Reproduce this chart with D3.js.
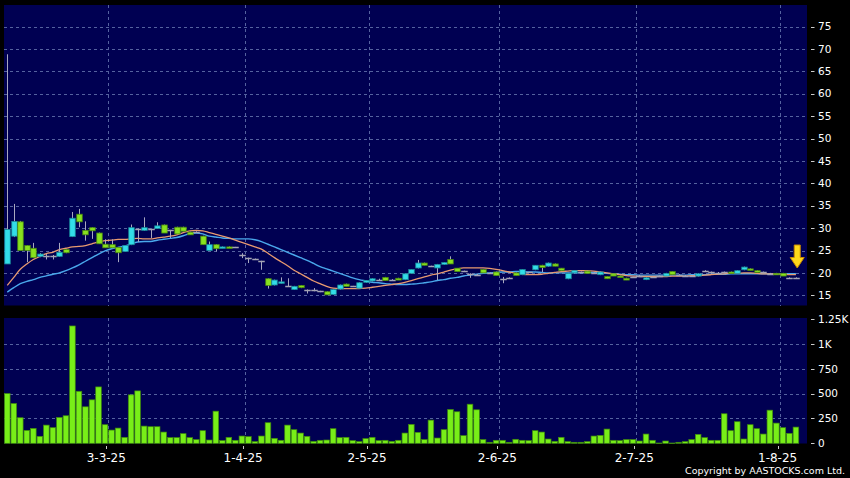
<!DOCTYPE html>
<html><head><meta charset="utf-8">
<script src="https://cdn.jsdelivr.net/npm/d3@7"></script>
<style>html,body{margin:0;padding:0;background:#000;}svg{display:block;}</style>
</head><body><svg id="c" width="850" height="478"></svg>
<script>
// ---- data (index = trading day from listing) ----
const opens  = [22.0,28.2,31.4,26.1,25.5,23.7,23.7,23.7,23.7,25.2,28.1,33.1,29.5,30.1,28.9,26.4,26.3,25.7,24.8,26.3,29.8,29.5,29.8,29.9,30.7,29.5,30.2,30.2,29.1,29.1,
 28.2,25.0,26.3,25.6,25.8,25.7,23.9,23.3,23.1,22.6,18.7,17.3,17.7,17.0,16.3,17.2,16.2,16.1,15.9,15.8,15.2,16.4,17.5,17.0,16.6,17.9,18.2,18.5,19.0,18.5,
 18.8,18.5,19.9,21.1,22.2,21.5,21.1,21.9,23.0,21.05,20.4,19.8,19.6,20.75,20.0,20.2,18.7,18.9,20.0,19.6,20.1,20.7,21.7,21.5,22.0,21.05,18.7,20.0,20.2,20.4,
 20.0,19.6,19.2,19.8,19.3,18.8,19.0,19.3,18.5,19.0,19.3,19.3,20.3,19.6,19.4,19.3,19.3,20.4,20.2,20.0,20.2,20.2,19.9,20.7,20.9,20.5,20.2,19.8,19.9,19.9,
 18.9,18.9];
const highs  = [68.8,35.4,31.6,26.2,26.7,24.4,24.2,24.0,26.7,25.3,33.6,34.3,31.5,30.2,29.0,27.5,27.5,25.8,26.2,30.8,29.9,32.4,29.9,31.3,30.8,29.6,30.3,30.3,29.2,29.3,
 28.3,27.0,26.4,25.9,25.9,25.8,24.4,23.4,23.2,22.7,18.8,18.5,19.0,18.8,17.1,17.3,16.3,16.6,16.0,15.9,16.4,17.4,17.6,17.1,17.9,18.4,18.8,18.7,19.1,18.6,
 18.9,19.9,20.8,22.9,22.3,21.6,22.0,22.4,23.7,21.1,20.5,19.9,19.8,20.8,20.1,20.3,19.1,19.0,20.1,20.8,20.2,21.7,21.8,22.3,22.1,21.1,20.0,20.6,20.3,20.5,
 20.1,20.3,19.3,19.9,19.4,18.9,19.1,19.5,19.0,19.1,19.4,20.0,20.4,19.7,19.5,19.4,19.9,20.6,20.3,20.2,20.3,20.3,20.6,21.4,21.0,20.6,20.3,20.0,20.0,20.0,
 19.0,19.0];
const lows   = [22.0,28.0,25.0,22.4,23.4,23.5,23.0,23.0,23.6,24.4,28.0,30.2,27.2,27.6,26.5,25.6,25.6,22.4,24.7,26.2,26.9,29.4,27.8,29.8,28.9,27.8,28.7,29.3,28.5,29.0,
 26.3,25.0,24.8,25.5,25.6,25.6,23.3,22.2,23.0,20.7,16.5,17.2,17.6,16.9,16.2,16.6,15.4,15.9,15.7,15.1,15.1,16.3,17.0,16.9,16.5,17.8,18.1,18.4,18.3,18.4,
 18.4,18.4,19.8,21.0,21.7,21.4,18.4,21.8,22.0,20.3,20.3,18.9,19.5,20.0,19.9,19.4,17.7,18.8,19.4,19.5,20.0,20.6,20.2,21.4,21.5,20.5,18.6,19.9,20.1,19.9,
 19.9,19.5,18.7,19.3,19.0,18.4,18.9,19.2,18.4,18.9,19.2,19.2,19.6,19.5,19.3,19.2,19.2,20.3,19.8,19.9,20.0,19.8,19.8,20.6,20.6,20.1,20.1,19.7,19.6,19.3,
 18.8,18.8];
const closes = [29.7,31.5,25.0,25.0,23.4,24.2,23.7,23.7,24.6,24.5,32.2,31.4,28.5,29.4,26.5,25.6,25.6,24.5,26.1,30.1,29.8,30.1,29.8,30.5,28.9,29.5,28.7,29.3,28.5,29.1,
 26.3,26.3,25.4,25.8,25.6,25.7,23.9,23.3,23.1,22.6,17.2,18.4,18.0,17.0,17.0,16.7,16.2,16.1,15.9,15.1,16.3,17.3,17.0,17.0,17.8,18.3,18.7,18.5,18.3,18.5,
 18.4,19.8,20.75,22.2,21.7,21.5,21.9,22.3,22.0,20.3,20.4,19.8,19.6,20.0,20.0,19.4,18.7,18.9,19.4,20.75,20.1,21.7,21.2,22.2,21.5,20.5,19.9,20.5,20.2,19.9,
 20.0,20.2,18.7,19.3,19.0,18.4,19.0,19.3,18.9,19.0,19.3,19.9,19.6,19.6,19.4,19.3,19.8,20.4,20.2,20.0,20.2,19.9,20.5,21.3,20.7,20.1,20.2,19.8,19.6,19.3,
 18.9,18.9];
const volumes = [500,400,257,130,150,70,183,157,260,277,1180,523,367,437,567,187,133,153,60,487,527,173,167,167,113,57,57,97,57,37,
 127,33,323,27,60,30,73,67,17,73,207,50,30,183,137,103,70,20,30,33,147,57,60,27,17,47,60,27,30,20,
 30,103,190,110,37,233,53,137,340,317,77,393,337,37,10,30,30,10,40,30,27,127,113,43,20,60,17,10,10,17,
 73,80,143,30,27,37,37,23,93,30,3,23,3,10,17,37,90,57,30,30,297,127,217,43,187,147,93,333,203,157,
 100,163];
const maShort = [17.2,19.0,20.8,22.0,23.0,23.7,24.3,24.6,25.2,25.5,25.8,25.9,26.1,26.5,26.9,27.2,27.3,27.5,27.5,27.6,27.7,27.6,27.6,27.8,28.0,28.2,28.5,29.0,29.4,29.5,
 29.4,29.0,28.6,28.2,27.8,27.3,26.8,26.3,25.8,25.3,24.4,23.4,22.5,21.6,20.6,19.8,19.0,18.2,17.6,17.0,16.6,16.5,16.5,16.5,16.5,16.6,16.8,17.0,17.2,17.4,
 17.6,17.9,18.3,18.7,19.1,19.5,19.8,20.2,20.6,20.9,21.1,21.1,21.1,21.1,21.0,20.8,20.5,20.2,19.9,19.7,19.6,19.6,19.7,19.9,20.1,20.3,20.4,20.5,20.5,20.5,
 20.4,20.2,20.0,19.8,19.6,19.4,19.3,19.2,19.2,19.2,19.2,19.2,19.3,19.3,19.3,19.4,19.4,19.5,19.6,19.7,19.8,19.9,19.9,20.0,20.0,19.9,19.8,19.8,19.7,19.7,
 19.6,19.6];
const maLong = [15.7,16.7,17.6,18.1,18.5,19.0,19.35,19.7,20.0,20.5,21.1,21.8,22.6,23.4,24.2,24.9,25.4,25.7,26.0,26.5,26.9,27.0,27.0,27.3,27.5,27.7,27.9,28.3,28.8,28.9,
 28.7,28.2,28.0,27.8,27.7,27.6,27.6,27.6,27.4,27.0,26.4,25.8,25.2,24.6,24.0,23.4,22.8,22.1,21.4,20.9,20.4,19.9,19.4,18.9,18.5,18.2,17.9,17.8,17.6,17.5,
 17.4,17.4,17.5,17.6,17.8,18.0,18.3,18.5,18.8,19.0,19.3,19.5,19.7,19.9,20.0,20.1,20.2,20.2,20.3,20.3,20.2,20.2,20.1,20.0,20.0,20.0,20.0,20.0,20.0,20.1,
 20.1,20.0,19.9,19.8,19.7,19.6,19.6,19.5,19.5,19.5,19.5,19.5,19.5,19.5,19.5,19.6,19.6,19.6,19.7,19.7,19.7,19.8,19.8,19.8,19.8,19.8,19.8,19.8,19.8,19.8,
 19.8,19.8];
const dateLabels = ["3-3-25","1-4-25","2-5-25","2-6-25","2-7-25","1-8-25"];
const dateIndex  = [15,36,55,75,96,118];
const priceTicks = [15,20,25,30,35,40,45,50,55,60,65,70,75];
const volTicks   = [0,250,500,750,1000,1250];
const volTickLabels = ["0","250","500","750","1K","1.25K"];

// ---- layout ----
const svg = d3.select("#c");
const L = 4, R = 807;
const top1 = 5, bot1 = 305.5, top2 = 318, bot2 = 443.5;
const x = d3.scaleLinear().domain([-0.5, 122.7]).range([L, R]);
const y = d3.scaleLinear().domain([15, 75]).range([295.3, 26.5]);
const yv = d3.scaleLinear().domain([0, 1250]).range([443.3, 319]);
const bw = 5.5;
const panel = "#000052", grid = "#55629f";
const upC = "#33dde8", upS = "#1a8a99", dnC = "#88e21e", dnS = "#4a8a10", dojiC = "#a4a4b4", wickC = "#a8a8c0";

svg.append("rect").attr("x",0).attr("y",0).attr("width",850).attr("height",478).attr("fill","#000");
svg.append("rect").attr("x",L).attr("y",top1).attr("width",R-L).attr("height",bot1-top1).attr("fill",panel);
svg.append("rect").attr("x",L).attr("y",top2).attr("width",R-L).attr("height",bot2-top2).attr("fill",panel);

// grid
const g = svg.append("g").attr("stroke",grid).attr("stroke-width",1).attr("stroke-dasharray","3,3").attr("shape-rendering","crispEdges");
priceTicks.forEach(t=>{ g.append("line").attr("x1",L).attr("x2",R).attr("y1",Math.round(y(t))+0.5).attr("y2",Math.round(y(t))+0.5); });
volTicks.slice(1,5).forEach(t=>{ g.append("line").attr("x1",L).attr("x2",R).attr("y1",Math.round(yv(t))+0.5).attr("y2",Math.round(yv(t))+0.5); });
dateIndex.forEach(i=>{
  const xx = Math.round(x(i+0.5))+0.5;
  g.append("line").attr("x1",xx).attr("x2",xx).attr("y1",top1).attr("y2",bot1);
  g.append("line").attr("x1",xx).attr("x2",xx).attr("y1",top2).attr("y2",bot2);
});

// MA lines
const idx = d3.range(opens.length);
const line = (arr)=> d3.line().x(i=>x(i)).y(i=>y(arr[i])).curve(d3.curveMonotoneX)(idx);
svg.append("path").attr("d",line(maLong)).attr("fill","none").attr("stroke","#4aa8ec").attr("stroke-width",1.4);
svg.append("path").attr("d",line(maShort)).attr("fill","none").attr("stroke","#e89a70").attr("stroke-width",1.3);

// candles
const cg = svg.append("g");
idx.forEach(i=>{
  const o=opens[i], c=closes[i], h=highs[i], l=lows[i];
  const cx = Math.round(x(i))+0.5;
  cg.append("line").attr("x1",cx).attr("x2",cx).attr("y1",y(h)).attr("y2",y(l)).attr("stroke",wickC).attr("stroke-width",1);
  if (Math.abs(o-c) < 0.05) {
    cg.append("line").attr("x1",cx-bw/2-0.5).attr("x2",cx+bw/2+0.5).attr("y1",Math.round(y(c))+0.5).attr("y2",Math.round(y(c))+0.5).attr("stroke",dojiC).attr("stroke-width",1.5);
  } else {
    const up = c > o;
    const y0 = y(Math.max(o,c)), y1 = y(Math.min(o,c));
    cg.append("rect").attr("x",cx-bw/2).attr("y",y0).attr("width",bw).attr("height",Math.max(1.5,y1-y0))
      .attr("fill",up?upC:dnC).attr("stroke",up?upS:dnS).attr("stroke-width",0.8);
  }
});

// volume bars
const vg = svg.append("g");
idx.forEach(i=>{
  const cx = x(i);
  vg.append("rect").attr("x",cx-2.8).attr("y",yv(volumes[i])).attr("width",5.6).attr("height",Math.max(0.5,yv(0)-yv(volumes[i])))
    .attr("fill","#78ee18").attr("stroke","#3f8a0c").attr("stroke-width",0.7);
});

// arrow
const ax = x(121.2);
svg.append("path").attr("d",`M${ax-3},245 L${ax+3},245 L${ax+3},257.5 L${ax+7},257.5 L${ax},268 L${ax-7},257.5 L${ax-3},257.5 Z`)
  .attr("fill","#ffd81a").attr("stroke","#c98a00").attr("stroke-width",1);

// axes labels
const tf = "DejaVu Sans, Verdana, sans-serif";
const yl = svg.append("g").attr("fill","#fff").attr("font-family",tf).attr("font-size",10.5);
priceTicks.forEach(t=>{
  svg.append("line").attr("x1",811).attr("x2",814.5).attr("y1",Math.round(y(t))+0.5).attr("y2",Math.round(y(t))+0.5).attr("stroke","#ccc");
  yl.append("text").attr("x",818).attr("y",y(t)).attr("dy","0.36em").text(t);
});
volTicks.forEach((t,k)=>{
  svg.append("line").attr("x1",811).attr("x2",814.5).attr("y1",Math.round(yv(t))+0.5).attr("y2",Math.round(yv(t))+0.5).attr("stroke","#ccc");
  yl.append("text").attr("x",818).attr("y",yv(t)).attr("dy","0.36em").text(volTickLabels[k]);
});
const xl = svg.append("g").attr("fill","#fff").attr("font-family",tf).attr("font-size",12).attr("text-anchor","middle");
dateIndex.forEach((i,k)=>{
  const xx = x(i+0.5);
  svg.append("line").attr("x1",Math.round(xx-2)+0.5).attr("x2",Math.round(xx-2)+0.5).attr("y1",446).attr("y2",449).attr("stroke","#ccc");
  xl.append("text").attr("x",xx-2).attr("y",462).text(dateLabels[k]);
});
svg.append("text").attr("x",845).attr("y",474).attr("text-anchor","end").attr("fill","#fff").attr("font-family",tf).attr("font-size",9.5)
  .text("Copyright by AASTOCKS.com Ltd.");
</script></body></html>
